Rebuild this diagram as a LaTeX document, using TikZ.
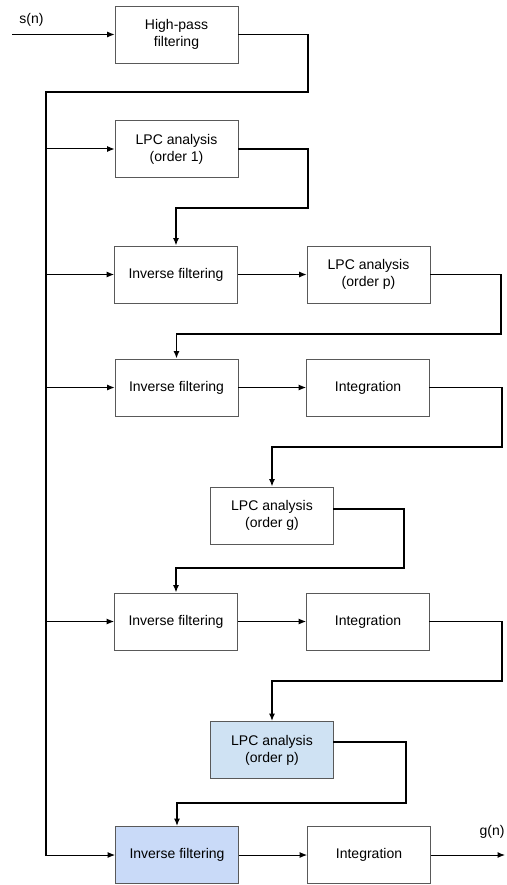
\documentclass[tikz,border=0pt]{standalone}
\usepackage{fontspec}
\setmainfont{Liberation Sans}
\usetikzlibrary{arrows.meta,calc}
\definecolor{lpcblue}{HTML}{CFE2F3}
\definecolor{invblue}{HTML}{C9DAF8}
\begin{document}
\begin{tikzpicture}[x=1pt,y=-1pt,
  box/.style={draw=black!65,line width=0.8pt,minimum width=123pt,minimum height=57pt,
    inner sep=0pt,align=center,font=\fontsize{14}{17}\selectfont},
  lbl/.style={font=\fontsize{14}{17}\selectfont,inner sep=0pt},
  arr/.style={line width=1pt,-{Latex[length=7.5pt,width=6pt]}},
  loopline/.style={line width=1.8pt,line cap=rect},
  looparr/.style={line width=1.5pt,-{Latex[length=7.5pt,width=6pt]}}]
\useasboundingbox (0,0) rectangle (506,885);
% boxes
\node[box] (hp)    at (176.5,34.5) {High-pass\\filtering};
\node[box] (lpc1)  at (176.5,149)  {LPC analysis\\(order 1)};
\node[box] (inv1)  at (176,274.5)  {Inverse filtering};
\node[box] (lpcp1) at (368.5,274.5){LPC analysis\\(order p)};
\node[box] (inv2)  at (176.5,387.5){Inverse filtering};
\node[box] (int2)  at (368,387.5)  {Integration};
\node[box] (lpcg)  at (272,515.5)  {LPC analysis\\(order g)};
\node[box] (inv3)  at (176,621.5)  {Inverse filtering};
\node[box] (int3)  at (368,621.5)  {Integration};
\node[box,fill=lpcblue] (lpcp2) at (272,750) {LPC analysis\\(order p)};
\node[box,fill=invblue] (inv4)  at (177,855) {Inverse filtering};
\node[box] (int4)  at (369,855)    {Integration};
% labels
\node[lbl] (sn) at (31.5,20) {s(n)};
\node[lbl] (gn) at (492,832) {g(n)};
% coordinates
\coordinate (in) at (12,34.5);
\coordinate (out) at (505,855);
\coordinate (bus) at (46,92);
\coordinate (busend) at (46,855);
\coordinate (k0) at (308,92);
\coordinate (k1) at (308,208);
\coordinate (k2) at (501,334);
\coordinate (k3) at (502,447);
\coordinate (k4) at (404,568);
\coordinate (k5) at (502,681);
\coordinate (k6) at (406,803);
% input
\draw[arr] (in) -- (hp.west);
% bus
\draw[loopline] (hp.east) -| (k0) -- (bus) -- (busend);
\draw[arr] (lpc1.west -| bus) -- (lpc1.west);
\draw[arr] (inv1.west -| bus) -- (inv1.west);
\draw[arr] (inv2.west -| bus) -- (inv2.west);
\draw[arr] (inv3.west -| bus) -- (inv3.west);
\draw[arr] (inv4.west -| bus) -- (inv4.west);
% loops
\draw[loopline] (lpc1.east) -| (k1) -- (k1 -| inv1.north);
\draw[looparr] (k1 -| inv1.north) -- (inv1.north);
\draw[loopline] (lpcp1.east) -| (k2) -- (k2 -| inv2.north);
\draw[looparr] (k2 -| inv2.north) -- (inv2.north);
\draw[loopline] (int2.east) -| (k3) -- (k3 -| lpcg.north);
\draw[looparr] (k3 -| lpcg.north) -- (lpcg.north);
\draw[loopline] ([yshift=6.5pt]lpcg.east) -| (k4) -- (k4 -| inv3.north);
\draw[looparr] (k4 -| inv3.north) -- (inv3.north);
\draw[loopline] (int3.east) -| (k5) -- (k5 -| lpcp2.north);
\draw[looparr] (k5 -| lpcp2.north) -- (lpcp2.north);
\draw[loopline] ([yshift=8pt]lpcp2.east) -| (k6) -- (k6 -| inv4.north);
\draw[looparr] (k6 -| inv4.north) -- (inv4.north);
% row arrows
\draw[arr] (inv1) -- (lpcp1);
\draw[arr] (inv2) -- (int2);
\draw[arr] (inv3) -- (int3);
\draw[arr] (inv4) -- (int4);
\draw[arr] (int4) -- (out);
\end{tikzpicture}
\end{document}
